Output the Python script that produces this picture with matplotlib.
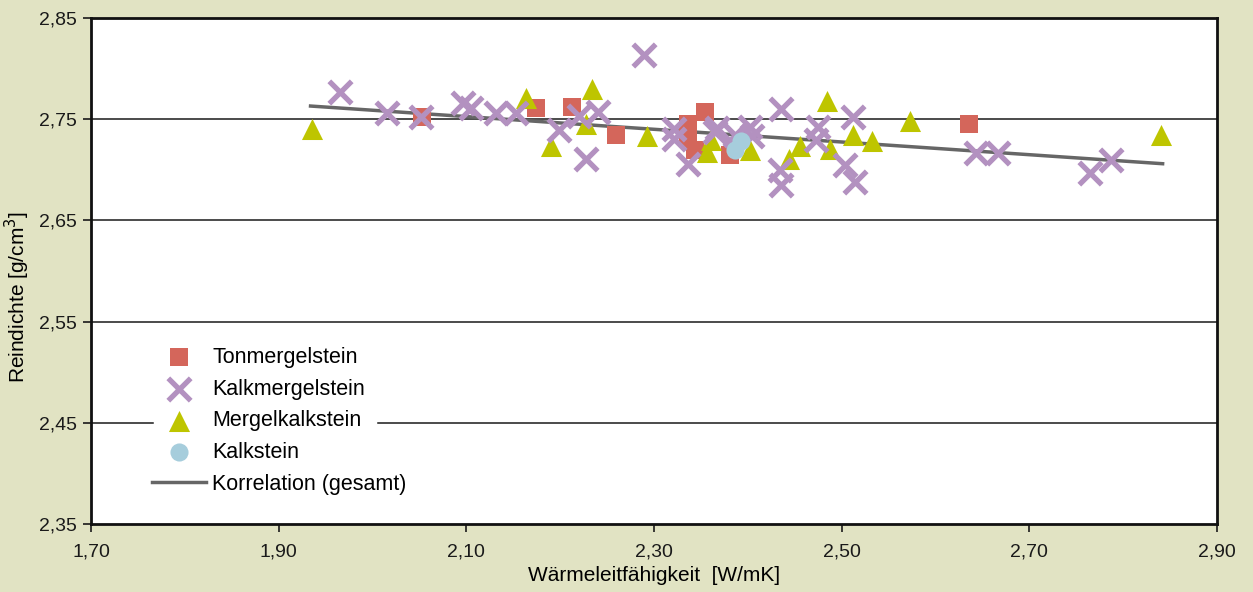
import matplotlib.pyplot as plt
import numpy as np

# Tonmergelstein (squares)
ton_x = [2.053, 2.174, 2.213, 2.260, 2.336, 2.354, 2.336, 2.344, 2.381, 2.636]
ton_y = [2.752, 2.761, 2.762, 2.734, 2.745, 2.757, 2.731, 2.720, 2.715, 2.745]

# Kalkmergelstein (crosses)
kalkm_x = [1.965, 2.015, 2.052, 2.096, 2.105, 2.132, 2.153, 2.199, 2.220, 2.240,
           2.228, 2.289, 2.321, 2.321, 2.336, 2.367, 2.365, 2.402, 2.404, 2.386,
           2.435, 2.434, 2.435, 2.475, 2.473, 2.504, 2.512, 2.514, 2.643, 2.667,
           2.765, 2.787]
kalkm_y = [2.777, 2.756, 2.752, 2.766, 2.761, 2.756, 2.756, 2.739, 2.753, 2.757,
           2.711, 2.813, 2.740, 2.730, 2.706, 2.741, 2.737, 2.742, 2.733, 2.734,
           2.760, 2.700, 2.685, 2.742, 2.729, 2.705, 2.752, 2.688, 2.717, 2.717,
           2.697, 2.710]

# Mergelkalkstein (triangles)
mergel_x = [1.936, 2.164, 2.234, 2.190, 2.227, 2.293, 2.361, 2.357, 2.402, 2.444,
            2.456, 2.484, 2.488, 2.512, 2.532, 2.573, 2.840]
mergel_y = [2.740, 2.771, 2.780, 2.724, 2.745, 2.733, 2.729, 2.718, 2.720, 2.711,
            2.724, 2.768, 2.721, 2.734, 2.728, 2.748, 2.734]

# Kalkstein (circles)
kalk_x = [2.386, 2.393]
kalk_y = [2.720, 2.728]

# Korrelation (gesamt)
korr_x = [1.934, 2.842]
korr_y = [2.763, 2.706]

xticks = [1.70, 1.90, 2.10, 2.30, 2.50, 2.70, 2.90]
yticks = [2.35, 2.45, 2.55, 2.65, 2.75, 2.85]

bg = '#e1e3c3'
plt.rcParams['font.family'] = ['Liberation Sans', 'DejaVu Sans']

fig = plt.figure(figsize=(12.53, 5.92), dpi=100, facecolor=bg)
ax = fig.add_axes([0.0726, 0.1149, 0.8987, 0.8547])
ax.set_facecolor('white')

# grid lines, the one at 2,45 is cut where the legend sits
for y in yticks[2:-1]:
    ax.axhline(y, color='#1a1a1a', lw=1.1, zorder=1)
ax.axhline(yticks[1], xmax=0.055, color='#1a1a1a', lw=1.1, zorder=1)
ax.axhline(yticks[1], xmin=0.255, color='#1a1a1a', lw=1.1, zorder=1)

ax.plot(korr_x, korr_y, color='#666666', lw=2.5, zorder=2, label='Korrelation (gesamt)')
ax.scatter(ton_x, ton_y, marker='s', s=150, color='#d4665b', lw=0, zorder=3, label='Tonmergelstein')
ax.scatter(kalkm_x, kalkm_y, marker='x', s=260, color='#b391c0', lw=3.8, zorder=4, label='Kalkmergelstein')
ax.scatter(mergel_x, mergel_y, marker='^', s=230, color='#bec500', lw=0, zorder=3, label='Mergelkalkstein')
ax.scatter(kalk_x, kalk_y, marker='o', s=170, color='#a6cddc', lw=0, zorder=5, label='Kalkstein')

ax.set_xlim(1.70, 2.90)
ax.set_ylim(2.35, 2.85)
ax.set_xticks(xticks)
ax.set_yticks(yticks)
ax.set_xticklabels([('%.2f' % v).replace('.', ',') for v in xticks], fontsize=14)
ax.set_yticklabels([('%.2f' % v).replace('.', ',') for v in yticks], fontsize=14)
ax.tick_params(direction='out', length=6, width=1.2, colors='#1a1a1a', pad=4)
ax.tick_params(axis='x', pad=8)

for s in ax.spines.values():
    s.set_linewidth(2)
    s.set_color('#111111')

ax.set_xlabel('Wärmeleitfähigkeit  [W/mK]', fontsize=15, labelpad=4)
ax.set_ylabel('Reindichte [g/cm$^3$]', fontsize=15)
ax.yaxis.set_label_coords(-0.052, 0.449)

handles, labels = ax.get_legend_handles_labels()
order = [1, 2, 3, 4, 0]
leg = ax.legend([handles[i] for i in order], [labels[i] for i in order],
                loc='upper left', bbox_to_anchor=(0.033, 0.397), fontsize=15.5,
                frameon=False, handlelength=2.5, handletextpad=0.3,
                labelspacing=0.5, borderpad=0.6)
leg.set_zorder(6)

fig.savefig('out.png', dpi=100, facecolor=bg)
